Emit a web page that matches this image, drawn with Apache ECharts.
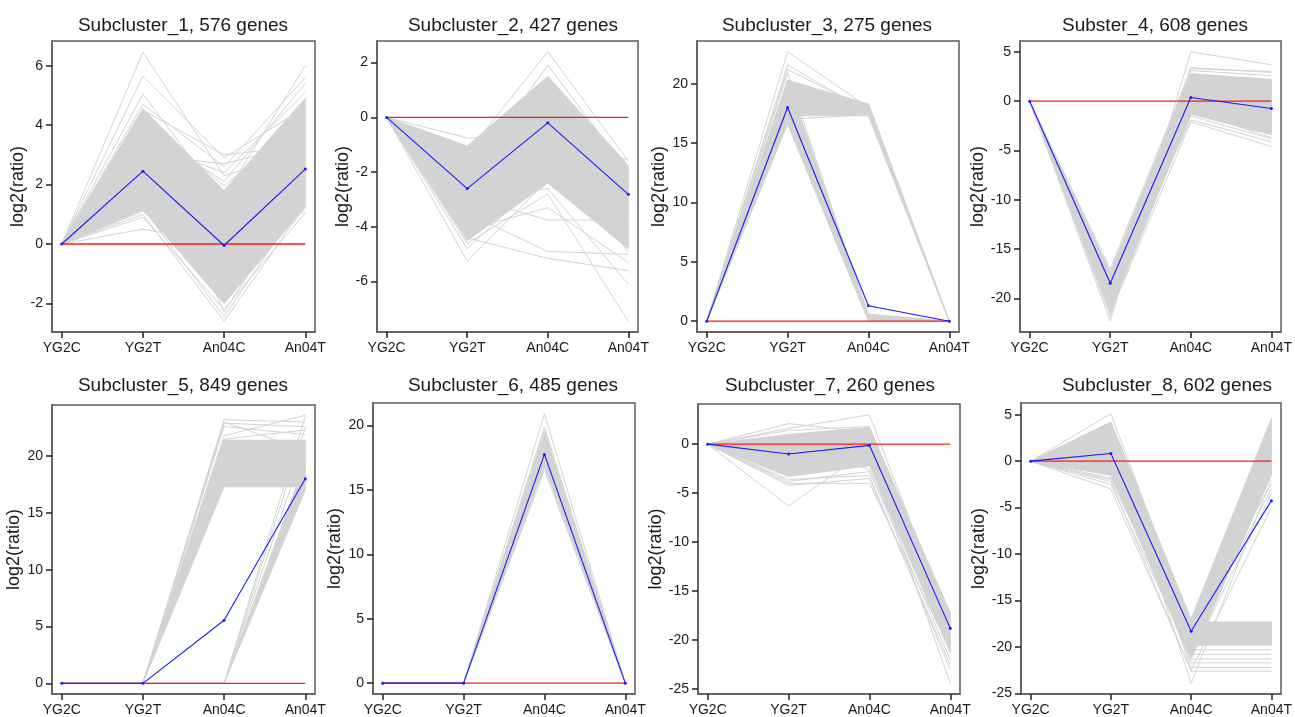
<!DOCTYPE html>
<html>
<head>
<meta charset="utf-8">
<script src="https://cdn.jsdelivr.net/npm/echarts@6/dist/echarts.min.js"></script>
<style>
html,body{margin:0;padding:0;background:#fff;}
#chart{width:1295px;height:717px;}
</style>
</head>
<body>
<div id="chart"></div>
<script>
// ---- Data ----
const categories = ['YG2C', 'YG2T', 'An04C', 'An04T'];
const titles = ['Subcluster_1, 576 genes', 'Subcluster_2, 427 genes', 'Subcluster_3, 275 genes', 'Subster_4, 608 genes',
                'Subcluster_5, 849 genes', 'Subcluster_6, 485 genes', 'Subcluster_7, 260 genes', 'Subcluster_8, 602 genes'];

// mean profiles (blue)
const p1Mean = [0, 2.45, -0.05, 2.52];
const p2Mean = [0, -2.6, -0.2, -2.81];
const p3Mean = [0, 18.0, 1.3, 0];
const p4Mean = [0, -18.45, 0.38, -0.74];
const p5Mean = [0, 0, 5.55, 18.0];
const p6Mean = [0, 0, 17.75, 0];
const p7Mean = [0, -1.0, -0.12, -18.8];
const p8Mean = [0, 0.83, -18.3, -4.25];

// dense gene bundles: [lo,hi] pairs for YG2C, YG2T, An04C, An04T
const p1Bands = [[0, 0, 1.15, 4.55, -2.0, 1.8, 1.25, 4.9]];
const p2Bands = [[0, 0, -4.5, -1.05, -2.4, 1.5, -4.8, -1.75]];
const p3Bands = [[0, 0, 17.3, 20.3, 17.3, 18.3, 0, 0], [0, 0, 16.6, 20.3, 0, 0.6, 0, 0]];
const p4Bands = [[0, 0, -21.3, -17.3, -1.3, 2.8, -3.4, 2.2]];
const p5Bands = [[0, 0, 0, 0, 17.3, 21.4, 17.3, 21.4], [0, 0, 0, 0, 0, 0, 17.0, 19.5]];
const p6Bands = [[0, 0, 0, 0, 16.8, 19.6, 0, 0]];
const p7Bands = [[0, 0, -3.3, 1.0, -2.2, 1.7, -21.3, -17.3]];
const p8Bands = [[0, 0, -1.5, 4.2, -21.3, -17.0, -1.5, 4.6], [0, 0, -1.5, 4.2, -19.8, -17.3, -19.8, -17.3]];

// individual sparse gene profiles
const p1Lines = [[0, 6.45, 2.3, 3.1], [0, 5.65, 2.9, 4.6], [0, 5.05, 1.4, 3.6], [0, 4.7, 2.6, 5.6], [0, 4.5, 3.0, 3.3],
  [0, 3.9, 2.1, 5.4], [0, 2.6, 1.6, 6.0], [0, 3.4, 2.4, 5.1], [0, 0.5, 0.0, 1.1], [0, 1.0, -2.6, 1.3],
  [0, 1.2, -2.45, 1.6], [0, 0.9, -2.2, 1.05], [0, 1.4, 1.8, 3.0], [0, 1.1, -1.0, 1.2], [0, 4.1, -2.3, 2.0],
  [0, 3.0, 2.7, 3.4], [0, 4.3, 1.95, 4.2]];
const p2Lines = [[0, -0.75, -0.8, -1.55], [0, -1.3, 2.4, -1.6], [0, -2.2, 1.9, -2.0], [0, -5.25, -2.3, -3.0],
  [0, -4.8, -2.0, -4.5], [0, -4.4, -5.15, -5.6], [0, -3.5, -4.9, -5.0], [0, -2.9, -3.75, -3.75],
  [0, -4.6, -2.8, -7.45], [0, -3.0, -2.6, -6.1], [0, -4.1, -3.3, -5.3], [0, -2.7, -0.5, -4.95]];
const p3Lines = [[0, 22.7, 18.0, 0], [0, 21.6, 17.6, 0], [0, 21.2, 17.8, 0], [0, 20.9, 0.2, 0],
  [0, 19.4, 18.3, 0], [0, 19.2, 18.1, 0], [0, 17.0, 17.4, 0]];
const p4Lines = [[0, -22.3, 5.0, 3.7], [0, -21.8, 3.4, 2.9], [0, -17.0, 3.1, 2.6], [0, -18.2, 3.3, 3.0],
  [0, -21.5, -2.1, -4.6], [0, -19.2, -1.9, -4.1], [0, -20.4, -1.5, -3.8], [0, -17.6, -1.0, -3.7], [0, -18.8, 2.3, 1.5]];
const p5Lines = [[0, 0, 23.2, 23.0], [0, 0, 22.9, 22.6], [0, 0, 22.6, 21.9], [0, 0, 21.8, 23.6], [0, 0, 21.5, 22.3],
  [0, 0, 23.0, 20.5], [0, 0, 0, 23.5], [0, 0, 0, 22.5], [0, 0, 0, 21.0]];
const p6Lines = [[0, 0, 20.9, 0], [0, 0, 19.9, 0], [0, 0, 16.5, 0]];
const p7Lines = [[0, 2.1, 1.2, -17.2], [0, 1.6, 3.0, -18.5], [0, 1.4, 1.8, -19.5], [0, -3.8, -2.8, -20.0],
  [0, -4.2, -3.5, -22.5], [0, -4.0, -4.0, -21.0], [0, -6.3, -0.5, -19.0], [0, -3.6, -3.2, -23.0],
  [0, -2.5, -1.0, -24.4], [0, 0.5, -2.6, -22.0]];
const p8Lines = [[0, 5.1, -18.0, 4.0], [0, 3.4, -20.0, 2.5], [0, -2.0, -19.5, -3.0], [0, -2.5, -21.0, -3.5],
  [0, -3.0, -22.5, -5.0], [0, 2.9, -23.9, -2.0], [0, -1.8, -17.3, -2.5],
  [0, -1.0, -20.3, -20.3], [0, 0.5, -20.8, -20.8], [0, 2.0, -21.3, -21.3], [0, -0.5, -21.7, -21.7],
  [0, 1.5, -22.2, -22.2], [0, -2.2, -22.6, -22.6]];

// axis ranges and tick values
const xMin = -0.12, xMax = 3.12;
const xTicks = [0, 1, 2, 3];
const yMins = [-2.96, -7.84, -0.91, -23.4, -0.94, -0.84, -25.5, -25.06];
const yMaxs = [6.83, 2.79, 23.6, 6.1, 24.5, 21.74, 4.1, 6.26];
const p1Ticks = [-2, 0, 2, 4, 6];
const p2Ticks = [-6, -4, -2, 0, 2];
const p3Ticks = [0, 5, 10, 15, 20];
const p4Ticks = [-20, -15, -10, -5, 0, 5];
const p5Ticks = [0, 5, 10, 15, 20];
const p6Ticks = [0, 5, 10, 15, 20];
const p7Ticks = [-25, -20, -15, -10, -5, 0];
const p8Ticks = [-25, -20, -15, -10, -5, 0, 5];

// ---- Layout ----
const grids = [
  {left: 52, top: 41, width: 263, height: 291},
  {left: 377, top: 41, width: 261, height: 291},
  {left: 697, top: 41, width: 262, height: 291},
  {left: 1020, top: 41, width: 262, height: 291},
  {left: 52, top: 405, width: 263, height: 291},
  {left: 373, top: 403, width: 262, height: 292},
  {left: 698, top: 404, width: 262, height: 292},
  {left: 1021, top: 403, width: 261, height: 292}
];
const titleX = [183, 513, 827, 1155, 183, 513, 830, 1167];
const titleY = [16, 16, 16, 16, 376, 376, 376, 376];

const means = [p1Mean, p2Mean, p3Mean, p4Mean, p5Mean, p6Mean, p7Mean, p8Mean];
const bands = [p1Bands, p2Bands, p3Bands, p4Bands, p5Bands, p6Bands, p7Bands, p8Bands];
const lines = [p1Lines, p2Lines, p3Lines, p4Lines, p5Lines, p6Lines, p7Lines, p8Lines];
const ticks = [p1Ticks, p2Ticks, p3Ticks, p4Ticks, p5Ticks, p6Ticks, p7Ticks, p8Ticks];

const FONT = '"Liberation Sans", Arial, sans-serif';
const GRAY = '#d3d3d3';
const TXT = '#1a1a1a';
const FRAME = '#5c5c5c';

const toPts = arr => arr.map((v, i) => [i, v]);

const option = {
  animation: false,
  backgroundColor: '#fff',
  title: titles.map((t, i) => ({
    text: t, left: titleX[i], top: titleY[i], textAlign: 'center', padding: 0,
    textStyle: {fontSize: 19, fontWeight: 'normal', color: TXT, fontFamily: FONT}
  })),
  grid: grids.map(g => Object.assign({show: true, borderColor: FRAME, borderWidth: 1.5, backgroundColor: 'transparent'}, g)),
  xAxis: grids.map((g, i) => ({
    gridIndex: i, type: 'value', min: xMin, max: xMax, position: 'bottom',
    axisLine: {show: true, onZero: false, lineStyle: {color: FRAME, width: 1.5}}, splitLine: {show: false},
    axisTick: {show: true, inside: false, length: 6, customValues: xTicks, lineStyle: {color: '#222', width: 1.5}},
    axisLabel: {customValues: xTicks, formatter: v => categories[Math.round(v)], fontSize: 14, color: TXT, margin: 9, fontFamily: FONT}
  })),
  yAxis: grids.map((g, i) => ({
    gridIndex: i, type: 'value', min: yMins[i], max: yMaxs[i], position: 'left',
    axisLine: {show: true, onZero: false, lineStyle: {color: FRAME, width: 1.5}}, splitLine: {show: false},
    axisTick: {show: true, inside: false, length: 6, customValues: ticks[i], lineStyle: {color: '#222', width: 1.5}},
    axisLabel: {customValues: ticks[i], fontSize: 14, color: TXT, margin: 9, fontFamily: FONT,
      formatter: v => String(v)},
    name: 'log2(ratio)', nameLocation: 'middle', nameGap: 22,
    nameTextStyle: {fontSize: 18, color: TXT, fontFamily: FONT}
  })),
  series: []
};

for (let i = 0; i < 8; i++) {
  option.series.push({
    type: 'custom', xAxisIndex: i, yAxisIndex: i, coordinateSystem: 'cartesian2d', silent: true, z: 1,
    data: bands[i],
    renderItem: function (params, api) {
      const hi = [], lo = [];
      for (let k = 0; k < 4; k++) {
        hi.push(api.coord([k, api.value(2 * k + 1)]));
        lo.push(api.coord([k, api.value(2 * k)]));
      }
      return {type: 'polygon', shape: {points: hi.concat(lo.reverse())},
        style: {fill: GRAY, stroke: GRAY, lineWidth: 1}};
    }
  });
  lines[i].forEach(l => option.series.push({
    type: 'line', xAxisIndex: i, yAxisIndex: i, data: toPts(l), showSymbol: false, silent: true, z: 2,
    lineStyle: {color: GRAY, width: 1}
  }));
  option.series.push({
    type: 'line', xAxisIndex: i, yAxisIndex: i, data: [[0, 0], [3, 0]], showSymbol: false, silent: true, z: 3,
    lineStyle: {color: '#ff1a1a', width: 1.3}
  });
  option.series.push({
    type: 'line', xAxisIndex: i, yAxisIndex: i, data: toPts(means[i]), symbol: 'circle', symbolSize: 3,
    showSymbol: true, silent: true, z: 4,
    itemStyle: {color: '#1a1aff'}, lineStyle: {color: '#1a1aff', width: 1.1}
  });
}

const chart = echarts.init(document.getElementById('chart'), null, {renderer: 'canvas'});
chart.setOption(option);
</script>
</body>
</html>
